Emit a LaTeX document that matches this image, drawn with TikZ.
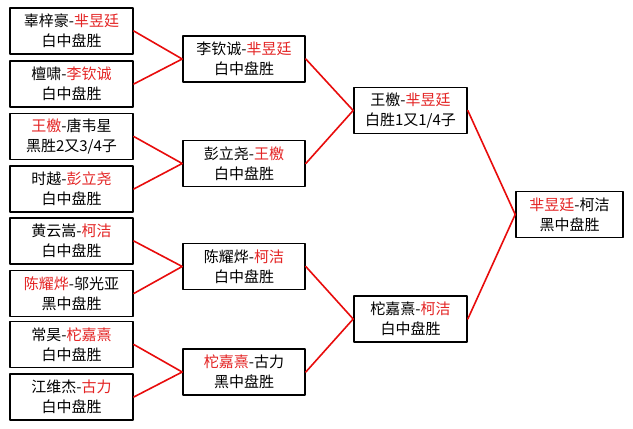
\documentclass[tikz,border=0pt]{standalone}
\usepackage{fontspec}
\newfontfamily\cjk{Noto Sans CJK SC}
\definecolor{winred}{RGB}{228,36,36}
\definecolor{linkred}{RGB}{232,12,12}
\newcommand{\wn}[1]{\textcolor{winred}{#1}}
\tikzset{
  game/.style={draw,line width=1.6pt,align=center,inner sep=0pt,
    minimum height=46,font=\cjk\fontsize{15}{20}\selectfont},
  first/.style={game,minimum width=123},
  second/.style={game,minimum width=122},
  semi/.style={game,minimum width=113},
  final/.style={game,minimum width=107},
  link/.style={draw=linkred,line width=1.6pt}
}
\begin{document}
\begin{tikzpicture}[x=1pt,y=-1pt,line cap=round,line join=round]
\useasboundingbox[fill=white] (0,0) rectangle (633,429);
% first round
\node[first] (m1) at (71.5,31) {辜梓豪-\wn{芈昱廷}\\白中盘胜};
\node[first] (m2) at (71.5,84) {檀啸-\wn{李钦诚}\\白中盘胜};
\node[first] (m3) at (71.5,136.5) {\wn{王檄}-唐韦星\\黑胜2又3/4子};
\node[first] (m4) at (71.5,189) {时越-\wn{彭立尧}\\白中盘胜};
\node[first] (m5) at (71.5,241) {黄云嵩-\wn{柯洁}\\白中盘胜};
\node[first] (m6) at (71.5,293.5) {\wn{陈耀烨}-邬光亚\\黑中盘胜};
\node[first] (m7) at (71.5,344.5) {常昊-\wn{柁嘉熹}\\白中盘胜};
\node[first] (m8) at (71.5,397) {江维杰-\wn{古力}\\白中盘胜};
% quarter finals
\node[second] (q1) at (244,59) {李钦诚-\wn{芈昱廷}\\白中盘胜};
\node[second] (q2) at (244,163.5) {彭立尧-\wn{王檄}\\白中盘胜};
\node[second] (q3) at (244,266.5) {陈耀烨-\wn{柯洁}\\白中盘胜};
\node[second] (q4) at (244,372) {\wn{柁嘉熹}-古力\\黑中盘胜};
% semi finals
\node[semi] (s1) at (410.5,110.5) {王檄-\wn{芈昱廷}\\白胜1又1/4子};
\node[semi] (s2) at (410.5,319) {柁嘉熹-\wn{柯洁}\\白中盘胜};
% final
\node[final] (f) at (569.5,214.5) {\wn{芈昱廷}-柯洁\\黑中盘胜};
% connectors
\draw[link] (m1.east) -- (q1.west) -- (m2.east);
\draw[link] (m3.east) -- (q2.west) -- (m4.east);
\draw[link] (m5.east) -- (q3.west) -- (m6.east);
\draw[link] (m7.east) -- (q4.west) -- (m8.east);
\draw[link] (q1.east) -- (s1.west) -- (q2.east);
\draw[link] (q3.east) -- (s2.west) -- (q4.east);
\draw[link] (s1.east) -- (f.west) -- (s2.east);
\end{tikzpicture}
\end{document}
